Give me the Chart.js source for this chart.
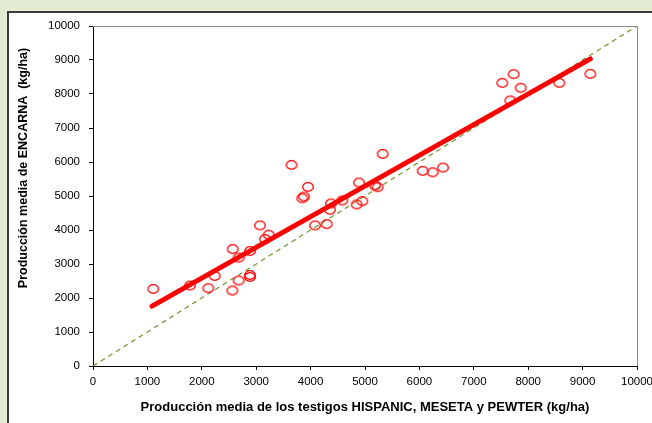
<!DOCTYPE html>
<html>
<head>
<meta charset="utf-8">
<script src="https://cdn.jsdelivr.net/npm/chart.js@4.4.1/dist/chart.umd.min.js"></script>
<style>
  body { margin: 0; background: #e3ebd3; width: 652px; height: 423px; overflow: hidden; position: relative; }
  #box { position: absolute; left: 7px; top: 11px; width: 700px; height: 450px; background: #fff;
         border-left: 2px solid #3a3a3a; border-top: 2px solid #3a3a3a; }
  #mycanvas { position: absolute; left: 0; top: 0; }
</style>
</head>
<body>
<div id="box"></div>
<canvas id="mycanvas" width="652" height="423"></canvas>
<script>
// media de los testigos (kg/ha)
var testigos = [1108, 1783, 2119, 2237, 2561, 2568, 2678, 2678, 2886, 2886, 2886, 3070, 3162, 3230,
  3649, 3952, 3847, 3879, 4081, 4296, 4357, 4375, 4583, 4847, 4950, 4890, 5184, 5233, 5325,
  6061, 6245, 6434, 7524, 7733, 7862, 7671, 8572, 9142];
// ENCARNA (kg/ha)
var encarna = [2267, 2367, 2287, 2648, 2220, 3440, 2513, 3188, 2677, 2619, 3381, 4135, 3733, 3862,
  5915, 5270, 4935, 4985, 4135, 4173, 4595, 4780, 4868, 4751, 4848, 5396, 5308, 5258, 6238,
  5739, 5698, 5836, 8328, 8584, 8182, 7809, 8328, 8592];
// recta de regresion (extremos)
var regX = [1085, 9142];
var regY = [1760, 9032];
// recta 1:1
var diagX = [0, 10000];
var diagY = [0, 10000];

var ticksStep = 1000;
var yTitle = "Producción media de ENCARNA  (kg/ha)";
var xTitle = "Producción media de los testigos HISPANIC, MESETA y PEWTER (kg/ha)";

function toPoints(xs, ys) {
  var out = [];
  for (var i in xs) out.push({x: xs[i], y: ys[i]});
  return out;
}

// marcador eliptico hueco
var mark = document.createElement('canvas');
mark.width = 14; mark.height = 12;
var mc = mark.getContext('2d');
mc.strokeStyle = '#ff0000';
mc.lineWidth = 1.3;
mc.beginPath();
mc.ellipse(7, 6, 5.3, 4.4, 0, 0, Math.PI * 2);
mc.stroke();

var frame = {
  id: 'frame',
  beforeDatasetsDraw: function(chart) {
    var a = chart.chartArea, c = chart.ctx;
    c.save();
    c.strokeStyle = '#8c8c8c';
    c.lineWidth = 1;
    c.beginPath();
    c.moveTo(a.left, a.top + 0.5);
    c.lineTo(a.right + 0.5, a.top + 0.5);
    c.lineTo(a.right + 0.5, a.bottom);
    c.stroke();
    c.restore();
  },
  afterDraw: function(chart) {
    var c = chart.ctx;
    c.save();
    c.translate(24, 168);
    c.rotate(-Math.PI / 2);
    c.font = "bold 12.5px 'Liberation Sans', Arial, sans-serif";
    c.fillStyle = '#000';
    c.textAlign = 'center';
    c.textBaseline = 'middle';
    c.fillText(yTitle, 0, 0);
    c.restore();
  }
};

var tickFont = {family: "'Liberation Sans', Arial, sans-serif", size: 11.5};
function plain(v) { return String(v); }

var ctx = document.getElementById('mycanvas');
var chart = new Chart(ctx, {
  type: 'scatter',
  data: {
    datasets: [
      {
        label: 'ENCARNA',
        data: toPoints(testigos, encarna),
        pointStyle: mark,
        pointRadius: 6,
        showLine: false,
        order: 1
      },
      {
        label: 'regresion',
        data: toPoints(regX, regY),
        showLine: true,
        borderColor: '#ff0000',
        borderWidth: 5,
        borderCapStyle: 'round',
        pointRadius: 0,
        order: 2
      },
      {
        label: '1:1',
        data: toPoints(diagX, diagY),
        showLine: true,
        borderColor: '#7b9a3e',
        borderWidth: 1.3,
        borderDash: [5, 4],
        pointRadius: 0,
        order: 3
      }
    ]
  },
  options: {
    responsive: false,
    animation: false,
    layout: {padding: {top: 26, right: 15, left: 0, bottom: 0}},
    plugins: {legend: {display: false}, tooltip: {enabled: false}},
    scales: {
      x: {
        type: 'linear', min: 0, max: 10000,
        ticks: {stepSize: ticksStep, color: '#000', font: tickFont, padding: 5, maxRotation: 0, callback: plain},
        grid: {drawOnChartArea: false, tickLength: 4, color: '#000'},
        border: {color: '#000', width: 1},
        title: {display: true, text: xTitle, color: '#000',
                font: {family: "'Liberation Sans', Arial, sans-serif", size: 13, weight: 'bold'},
                padding: {top: 0, bottom: 8}},
        afterFit: function(s) { s.height = 57; s.paddingRight = 0; s.paddingLeft = 0; }
      },
      y: {
        type: 'linear', min: 0, max: 10000,
        ticks: {stepSize: ticksStep, color: '#000', font: tickFont, padding: 9, callback: plain},
        grid: {drawOnChartArea: false, tickLength: 4, color: '#000'},
        border: {color: '#000', width: 1},
        afterFit: function(s) { s.width = 93; s.paddingTop = 0; s.paddingBottom = 0; }
      }
    }
  },
  plugins: [frame]
});
</script>
</body>
</html>
